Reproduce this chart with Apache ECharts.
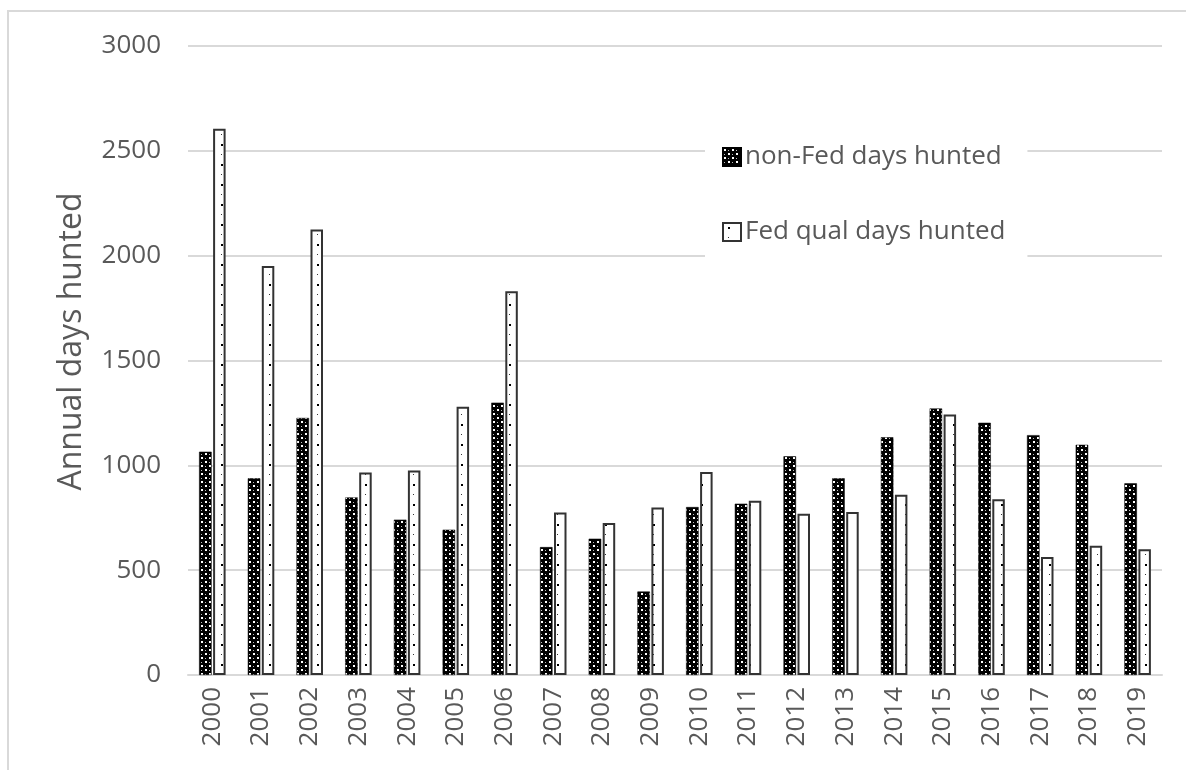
<!DOCTYPE html>
<html>
<head>
<meta charset="utf-8">
<script src="https://cdn.jsdelivr.net/npm/echarts@6/dist/echarts.min.js"></script>
<style>
html,body{margin:0;padding:0;background:#fff;}
#chart{width:1186px;height:770px;}
</style>
</head>
<body>
<div id="chart"></div>
<script>
const years = ['2000','2001','2002','2003','2004','2005','2006','2007','2008','2009','2010','2011','2012','2013','2014','2015','2016','2017','2018','2019'];
const nonFedDays = [1065, 938, 1226, 847, 741, 693, 1299, 610, 650, 398, 801, 817, 1043, 938, 1134, 1271, 1203, 1144, 1098, 914];
const fedQualDays = [2605, 1951, 2125, 966, 975, 1279, 1830, 775, 725, 799, 968, 831, 769, 777, 860, 1242, 838, 563, 616, 600];
const yTicks = [0, 500, 1000, 1500, 2000, 2500, 3000];

function makeDarkPattern() {
  const c = document.createElement('canvas');
  c.width = 8; c.height = 8;
  const g = c.getContext('2d');
  g.fillStyle = '#000'; g.fillRect(0, 0, 8, 8);
  g.fillStyle = '#fff';
  g.fillRect(1, 1, 2, 2);
  g.fillRect(5, 5, 2, 2);
  g.fillStyle = '#bbb';
  g.fillRect(5, 2, 1, 1);
  g.fillRect(1, 6, 1, 1);
  return c;
}
function makeLightPattern() {
  const c = document.createElement('canvas');
  c.width = 12; c.height = 20;
  const g = c.getContext('2d');
  g.fillStyle = '#fff'; g.fillRect(0, 0, 12, 20);
  g.fillStyle = '#000';
  g.fillRect(5, 4, 2, 2);
  g.fillStyle = '#333';
  g.fillRect(5, 14, 1, 1);
  return c;
}

const chart = echarts.init(document.getElementById('chart'), null, {renderer: 'canvas'});
const textColor = '#595959';
const fontFam = 'Open Sans';

chart.setOption({
  backgroundColor: '#fff',
  animation: false,
  graphic: [{
    type: 'rect',
    shape: {x: 8, y: 11, width: 1300, height: 900},
    style: {fill: 'none', stroke: '#d9d9d9', lineWidth: 2},
    silent: true, z: -10
  }],
  grid: {left: 188, right: 24, top: 46, bottom: 95},
  legend: {
    orient: 'vertical',
    left: 705, top: 126,
    padding: [16, 22, 16, 17],
    backgroundColor: '#fff',
    icon: 'rect',
    itemWidth: 18, itemHeight: 18,
    itemGap: 45,
    textStyle: {color: textColor, fontSize: 26, lineHeight: 30, fontFamily: fontFam, padding: [0, 0, 0, -1]},
    data: ['non-Fed days hunted', 'Fed qual days hunted']
  },
  xAxis: {
    type: 'category',
    data: years,
    axisLine: {lineStyle: {color: '#d9d9d9', width: 2}},
    axisTick: {show: false},
    axisLabel: {rotate: 90, color: textColor, fontSize: 26, fontFamily: fontFam, margin: 12}
  },
  yAxis: {
    type: 'value',
    min: yTicks[0], max: yTicks[yTicks.length - 1], interval: 500,
    name: 'Annual days hunted',
    nameLocation: 'middle',
    nameGap: 100,
    nameTextStyle: {color: textColor, fontSize: 32, fontFamily: fontFam, padding: [0, 0, 0, 38]},
    axisLine: {show: false},
    axisTick: {show: false},
    axisLabel: {color: textColor, fontSize: 26, fontFamily: fontFam, margin: 27, formatter: function (v) { return String(v); }},
    splitLine: {lineStyle: {color: '#d9d9d9', width: 2}}
  },
  series: [{
    name: 'non-Fed days hunted',
    type: 'bar',
    data: nonFedDays,
    barWidth: 12.5,
    barGap: '12%',
    itemStyle: {color: {image: makeDarkPattern(), repeat: 'repeat'}, borderColor: '#000', borderWidth: 0.5}
  }, {
    name: 'Fed qual days hunted',
    type: 'bar',
    data: fedQualDays,
    barWidth: 12.5,
    itemStyle: {color: {image: makeLightPattern(), repeat: 'repeat'}, borderColor: '#333', borderWidth: 2}
  }]
});
</script>
</body>
</html>
